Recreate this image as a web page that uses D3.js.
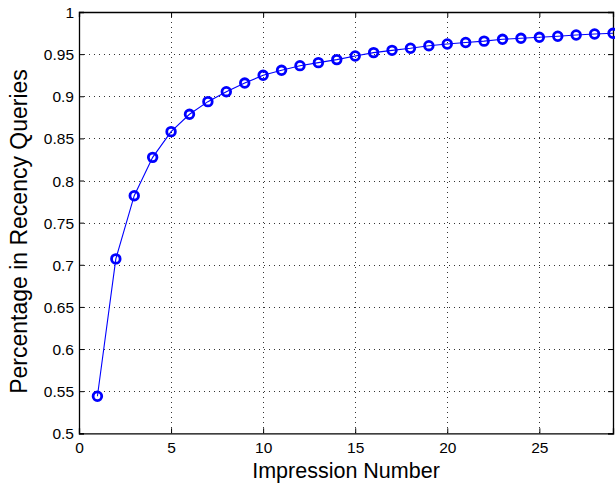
<!DOCTYPE html>
<html>
<head>
<meta charset="utf-8">
<script src="https://cdn.jsdelivr.net/npm/d3@7"></script>
<style>
  html, body { margin: 0; padding: 0; background: #fff; }
  svg { display: block; }
  text { font-family: "Liberation Sans", Arial, Helvetica, sans-serif; fill: #000; }
</style>
</head>
<body>
<svg id="chart" width="615" height="484"></svg>
<script>
const impressions = d3.range(1, 30);
const recencyPct = [0.544, 0.707, 0.782, 0.8275, 0.858, 0.8786, 0.8936, 0.9054, 0.9157, 0.9249,
  0.9308, 0.9363, 0.9399, 0.9435, 0.9478, 0.9518, 0.9545, 0.957, 0.960, 0.962,
  0.9638, 0.9654, 0.9676, 0.9688, 0.970, 0.9712, 0.9727, 0.9739, 0.9747];
const xTicks = [0, 5, 10, 15, 20, 25];
const yTicks = [0.5, 0.55, 0.6, 0.65, 0.7, 0.75, 0.8, 0.85, 0.9, 0.95, 1];
const xLabel = "Impression Number";
const yLabel = "Percentage in Recency Queries";

const svg = d3.select("#chart");
const L = 79, R = 613, T = 12, B = 433.3;
const x = d3.scaleLinear().domain([0, 29]).range([L, R]);
const y = d3.scaleLinear().domain([0.5, 1]).range([B, T]);

// grid
const grid = svg.append("g").attr("stroke", "#333").attr("stroke-width", 1)
  .attr("stroke-dasharray", "1,4").attr("shape-rendering", "crispEdges");
grid.selectAll("line.gx").data(xTicks.filter(d => d > 0)).enter().append("line")
  .attr("x1", d => Math.round(x(d)) + 0.5).attr("x2", d => Math.round(x(d)) + 0.5)
  .attr("y1", T).attr("y2", B);
grid.selectAll("line.gy").data(yTicks.filter(d => d > 0.5 && d < 1)).enter().append("line")
  .attr("y1", d => Math.round(y(d)) + 0.5).attr("y2", d => Math.round(y(d)) + 0.5)
  .attr("x1", L).attr("x2", R);

// axes (ticks inside) on all four sides
const tickLen = 5;
const axB = svg.append("g").attr("transform", `translate(0,${B})`)
  .call(d3.axisBottom(x).tickValues(xTicks).tickSize(-tickLen).tickPadding(9).tickFormat(d3.format("d")));
const axT = svg.append("g").attr("transform", `translate(0,${T})`)
  .call(d3.axisTop(x).tickValues(xTicks).tickSize(-tickLen).tickFormat(""));
const axL = svg.append("g").attr("transform", `translate(${L},0)`)
  .call(d3.axisLeft(y).tickValues(yTicks).tickSize(-tickLen).tickPadding(5).tickFormat(d => d3.format("")(+d.toFixed(2))));
const axR = svg.append("g").attr("transform", `translate(${R},0)`)
  .call(d3.axisRight(y).tickValues(yTicks).tickSize(-tickLen).tickFormat(""));
[axB, axT, axL, axR].forEach(a => {
  a.selectAll("path.domain").attr("stroke", "#000").attr("stroke-width", 1.3);
  a.selectAll(".tick line").attr("stroke", "#000").attr("stroke-width", 1);
  a.selectAll("text").style("font-size", "15.5px").attr("fill", "#000");
});
axL.selectAll("text").attr("dy", "0.36em");
axB.selectAll("text").attr("dy", "0.72em");

// line
const pts = impressions.map((d, i) => [d, recencyPct[i]]);
svg.append("path").datum(pts)
  .attr("fill", "none").attr("stroke", "#0000ff").attr("stroke-width", 1.1)
  .attr("d", d3.line().x(d => x(d[0])).y(d => y(d[1])));
svg.append("g").selectAll("circle").data(pts).enter().append("circle")
  .attr("cx", d => x(d[0])).attr("cy", d => y(d[1])).attr("r", 4.3)
  .attr("fill", "none").attr("stroke", "#0000ff").attr("stroke-width", 2.8);

// labels
svg.append("text").attr("x", (L + R) / 2).attr("y", 478).attr("text-anchor", "middle")
  .style("font-size", "21.5px").text(xLabel);
svg.append("text").attr("transform", `translate(27,231.5) rotate(-90)`)
  .attr("text-anchor", "middle").style("font-size", "23px").text(yLabel);
</script>
</body>
</html>
